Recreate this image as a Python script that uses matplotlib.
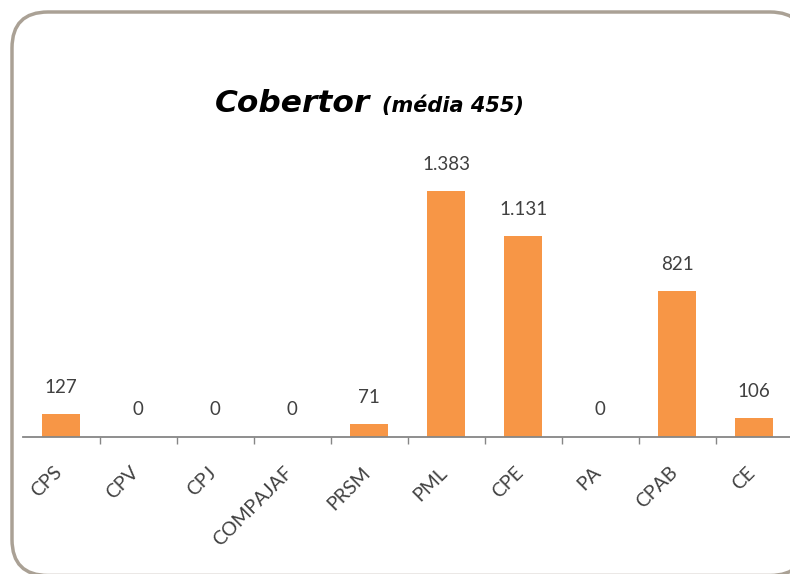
import matplotlib.pyplot as plt
from matplotlib.patches import FancyBboxPatch

categories = ['CPS', 'CPV', 'CPJ', 'COMPAJAF', 'PRSM', 'PML', 'CPE', 'PA', 'CPAB', 'CE']
values = [127, 0, 0, 0, 71, 1383, 1131, 0, 821, 106]
title_main = 'Cobertor'
title_sub = '(média 455)'

bar_color = '#f79646'
text_color = '#404040'

plt.rcParams['font.family'] = ['Lato', 'DejaVu Sans']

fig = plt.figure(figsize=(7.9, 5.74), dpi=100)
fig.patch.set_facecolor('white')

# rounded frame around the whole chart (runs off the right and bottom edges)
# filled white so agg does not clip it against the canvas border
frame = FancyBboxPatch((0.12, -0.015), 7.94, 5.635,
                       boxstyle='round,pad=0,rounding_size=0.36',
                       transform=fig.dpi_scale_trans,
                       facecolor='white', edgecolor='#aaa195', linewidth=2.5,
                       zorder=-1)
fig.patches.append(frame)

ax = fig.add_axes([0.0285, 0.2387, 0.975, 0.495])
x = list(range(len(categories)))
ax.bar(x, values, width=0.49, color=bar_color, zorder=2)
ax.set_xlim(-0.5, len(categories) - 0.5)
ax.set_ylim(0, 1600)

def fmt(v):
    return f'{v:,}'.replace(',', '.')

for xi, v in zip(x, values):
    ax.annotate(fmt(v), (xi, v), xytext=(0, 15.5), textcoords='offset points',
                ha='center', va='baseline', fontsize=13.5, color=text_color)

for s in ['top', 'right', 'left']:
    ax.spines[s].set_visible(False)
ax.spines['bottom'].set_color('#868686')
ax.spines['bottom'].set_linewidth(1.3)
ax.set_yticks([])
ax.set_facecolor('none')

ax.set_xticks([i + 0.5 for i in x[:-1]])
ax.set_xticklabels([])
ax.tick_params(axis='x', length=5, width=1, color='#868686', direction='out')

for xi, lab in zip(x, categories):
    ax.annotate(lab, (xi, 0), xytext=(-1.5, -23.5), textcoords='offset points',
                ha='right', va='center', rotation=45, rotation_mode='anchor',
                fontsize=14, color=text_color)

fig.text(0.272, 0.805, title_main, fontsize=22.5, fontweight='bold', fontstyle='italic',
         family='DejaVu Sans', color='black', ha='left', va='baseline')
fig.text(0.484, 0.805, title_sub, fontsize=15, fontweight='bold', fontstyle='italic',
         family='DejaVu Sans', color='black', ha='left', va='baseline')

fig.savefig('out.png', dpi=100)
